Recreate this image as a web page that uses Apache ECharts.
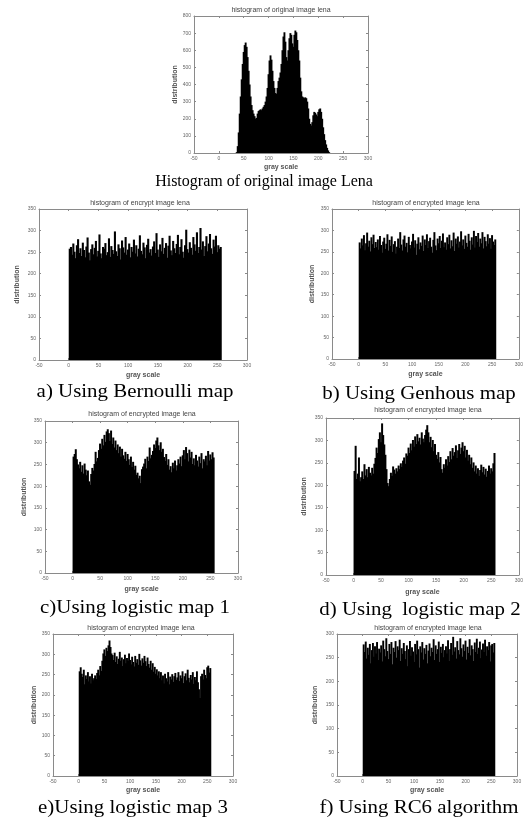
<!DOCTYPE html>
<html>
<head>
<meta charset="utf-8">
<script src="https://cdn.jsdelivr.net/npm/echarts@6/dist/echarts.min.js"></script>
<style>
html,body{margin:0;padding:0;background:#fff;}
#chart{width:526px;height:820px;}
</style>
</head>
<body>
<div id="chart"></div>
<script>
// ---------- DATA ----------
// Histogram bins: each bin covers 2 gray levels, starting at these gray values (0..254)
const BIN = 2;
const grayBins = Array.from({length: 128}, (_, i) => i * BIN);
const xTicks = [-50, 0, 50, 100, 150, 200, 250, 300];

const plotTitles = [
  "histogram of original image lena",
  "histogram of encrypt image lena",
  "histogram of encrypted image lena",
  "histogram of encrypted image lena",
  "histogram of encrypted image lena",
  "histogram of encrypted image lena",
  "histogram of encrypted image lena"
];
const captions = [
  "Histogram of original image Lena",
  "a) Using Bernoulli map",
  "b) Using Genhous map",
  "c)Using logistic map 1",
  "d) Using  logistic map 2",
  "e)Using logistic map 3",
  "f) Using RC6 algorithm"
];
const yMaxes = [800, 350, 350, 350, 350, 350, 300];
const yIntervals = [100, 50, 50, 50, 50, 50, 50];

const originalLena = [
  0,0,0,0,0,0,0,0,0,0,0,0,0,0,0,0,
  0,5,40,120,230,330,430,520,590,630,645,620,560,480,400,330,
  280,250,230,215,200,205,230,245,250,255,250,260,270,280,300,330,
  380,460,540,570,545,480,420,380,350,345,380,420,440,470,520,600,
  680,705,650,560,540,600,670,700,690,640,620,690,715,705,660,600,
  540,440,360,330,325,320,325,320,300,260,200,170,160,180,220,240,
  235,225,215,240,255,260,240,200,150,110,75,50,30,15,5,0,
  0,0,0,0,0,0,0,0,0,0,0,0,0,0,0,0
];
const bernoulliMap = [
  258,262,244,270,251,236,266,280,248,259,241,272,255,238,263,284,
  249,231,257,268,245,260,276,240,253,291,247,236,262,258,271,243,
  250,282,239,264,255,246,298,252,241,268,259,233,277,261,249,285,
  244,256,270,238,262,251,279,247,266,240,258,289,253,245,272,261,
  236,267,281,249,257,242,263,275,248,294,256,239,268,252,283,246,
  260,271,237,265,288,254,243,276,259,248,269,290,245,262,280,251,
  237,266,302,257,249,273,260,244,285,268,253,296,248,262,306,256,
  275,241,264,287,252,270,292,259,246,279,263,288,250,266,258,262
];
const genhousMap = [
  272,258,281,265,289,254,270,295,262,276,251,284,268,290,259,273,
  261,279,255,287,266,248,274,283,257,269,291,253,278,264,286,250,
  268,275,246,262,281,259,296,267,253,279,288,262,271,249,285,266,
  258,274,292,260,277,243,269,284,256,272,264,288,252,279,266,291,
  259,275,283,262,248,278,296,265,254,281,270,287,259,276,293,261,
  272,255,284,268,290,258,277,263,295,252,281,269,286,260,274,298,
  265,279,257,288,271,262,292,276,255,284,267,299,260,287,273,294,
  262,281,270,296,258,285,275,263,291,269,282,257,289,274,266,279
];
const logisticMap1 = [
  268,274,285,262,250,241,256,233,248,229,252,238,225,236,211,203,
  228,242,236,251,279,257,265,283,298,286,309,294,318,302,326,331,
  322,304,328,297,312,289,305,283,296,276,291,268,286,271,263,279,
  258,274,262,249,268,244,256,238,247,226,231,218,224,207,239,245,
  252,263,241,268,258,289,264,272,281,296,288,305,312,294,283,301,
  279,286,267,258,274,249,262,238,246,232,254,241,259,236,248,262,
  252,268,246,271,283,262,290,276,257,284,266,279,251,264,248,272,
  259,245,268,253,276,241,262,257,270,248,281,259,273,262,278,266
];
const logisticMap2 = [
  232,288,214,226,262,209,218,231,214,247,222,236,218,241,228,222,
  239,226,248,261,284,272,303,318,296,338,312,291,268,236,205,198,
  214,228,221,242,235,226,238,231,244,236,249,241,255,262,248,271,
  266,284,272,293,278,301,286,309,292,314,298,306,291,318,304,296,
  312,324,334,318,296,308,285,301,276,292,268,259,274,251,263,236,
  228,247,239,258,244,265,252,276,258,283,266,274,289,261,278,292,
  270,284,296,276,288,262,279,255,268,247,262,239,251,231,244,226,
  238,221,234,246,229,241,224,237,219,232,244,226,238,231,249,272
];
const logisticMap3 = [
  258,268,252,244,262,226,248,239,256,233,246,228,252,236,241,248,
  239,254,262,248,271,259,284,302,312,296,316,308,322,334,318,302,
  298,286,304,281,295,276,289,306,284,292,271,288,299,278,291,284,
  302,286,275,294,281,270,296,279,288,274,301,285,272,290,279,296,
  283,271,292,276,267,284,262,278,257,269,252,263,248,258,241,256,
  236,248,228,252,241,233,256,226,245,238,251,232,246,254,237,243,
  256,234,248,241,258,229,246,253,236,262,242,231,249,238,256,227,
  244,236,258,231,214,192,246,252,238,262,249,241,268,272,255,266
];
const rc6Algorithm = [
  278,262,284,248,271,256,279,238,266,281,252,274,259,283,245,269,
  261,276,242,286,268,253,291,264,247,279,258,283,236,271,262,285,
  250,274,266,288,243,270,258,281,264,247,276,232,268,285,254,272,
  263,241,279,257,286,268,229,274,261,283,246,270,258,277,238,265,
  280,253,271,262,289,245,276,258,268,284,241,273,260,279,251,266,
  274,259,287,243,268,281,256,294,263,272,248,285,266,257,291,270,
  252,278,264,286,246,273,260,289,255,276,268,243,282,262,290,258,
  271,284,249,267,280,262,288,254,274,266,283,242,276,279,261,281
];
const seriesValues = [originalLena, bernoulliMap, genhousMap, logisticMap1, logisticMap2, logisticMap3, rc6Algorithm];

// ---------- LAYOUT (positions only) ----------
const layout = [
  {grid:{left:194,top:16,width:174,height:137}, title:[281,10], cap:[264,182], capSize:16, capScale:1.0, xGap:11, yGap:13},
  {grid:{left:39,top:209,width:208,height:151}, title:[140,203], cap:[135,392], capSize:19, capScale:1.1, xGap:12, yGap:18},
  {grid:{left:332,top:209,width:187,height:150}, title:[426,203], cap:[419,394], capSize:19, capScale:1.1, xGap:12, yGap:16},
  {grid:{left:45,top:421,width:193,height:152}, title:[142,414], cap:[135,608], capSize:19, capScale:1.1, xGap:13, yGap:17},
  {grid:{left:326,top:418,width:199,height:157}, title:[428,410], cap:[420,610], capSize:19, capScale:1.1, xGap:14, yGap:18},
  {grid:{left:53,top:634,width:180,height:142}, title:[141,628], cap:[133,808], capSize:19, capScale:1.1, xGap:11, yGap:15},
  {grid:{left:337,top:634,width:180,height:142}, title:[428,628], cap:[419,808], capSize:19, capScale:1.1, xGap:11, yGap:18}
];

const chart = echarts.init(document.getElementById('chart'), null, {renderer:'canvas'});
const AX = '#8a8a8a';
const LBL = {fontSize:5, color:'#666', fontFamily:'Liberation Sans'};
const option = {animation:false, backgroundColor:'#fff', grid:[], xAxis:[], yAxis:[], series:[], graphic:[]};

layout.forEach((L, i) => {
  option.grid.push(Object.assign({show:false, containLabel:false}, L.grid));
  const base = {gridIndex:i, type:'value', splitLine:{show:false},
    axisLine:{show:true, onZero:false, lineStyle:{color:AX, width:1}},
    axisTick:{show:true, inside:true, length:2, lineStyle:{color:AX}}};
  option.xAxis.push(Object.assign({}, base, {position:'bottom', min:xTicks[0], max:xTicks[xTicks.length-1], interval:50,
    axisLabel:Object.assign({margin:3}, LBL),
    name:'gray scale', nameLocation:'middle', nameGap:L.xGap,
    nameTextStyle:{fontSize:7, fontWeight:'bold', color:'#555', fontFamily:'Liberation Sans'}}));
  option.xAxis.push(Object.assign({}, base, {position:'top', min:xTicks[0], max:xTicks[xTicks.length-1], interval:50, axisLabel:{show:false}}));
  option.yAxis.push(Object.assign({}, base, {position:'left', min:0, max:yMaxes[i], interval:yIntervals[i],
    axisLabel:Object.assign({margin:3}, LBL),
    name:'distribution', nameLocation:'middle', nameGap:L.yGap, nameRotate:90,
    nameTextStyle:{fontSize:7, fontWeight:'bold', color:'#555', fontFamily:'Liberation Sans'}}));
  option.yAxis.push(Object.assign({}, base, {position:'right', min:0, max:yMaxes[i], interval:yIntervals[i], axisLabel:{show:false}}));
  option.series.push({
    type:'custom', xAxisIndex:2*i, yAxisIndex:2*i, clip:true,
    data: grayBins.map((g, k) => [g, seriesValues[i][k]]),
    renderItem: function(params, api){
      const g = api.value(0), v = api.value(1);
      const p0 = api.coord([g, 0]);
      const p1 = api.coord([g + BIN, v]);
      // slight overlap so adjacent bars merge into a solid black body
      return {type:'rect', shape:{x:p0[0], y:p1[1], width:(p1[0]-p0[0]) + 0.9, height:p0[1]-p1[1]},
        style:{fill:'#000', stroke:null}};
    }
  });
  option.graphic.push({type:'text', x:L.title[0], y:L.title[1],
    style:{text:plotTitles[i], fontSize:7, fill:'#444', fontFamily:'Liberation Sans', textAlign:'center', textVerticalAlign:'middle'}});
  option.graphic.push({type:'text', x:L.cap[0], y:L.cap[1], scaleX:L.capScale,
    style:{text:captions[i], fontSize:L.capSize, fill:'#000', fontFamily:'Liberation Serif', textAlign:'center', textVerticalAlign:'middle'}});
});

chart.setOption(option);
</script>
</body>
</html>
